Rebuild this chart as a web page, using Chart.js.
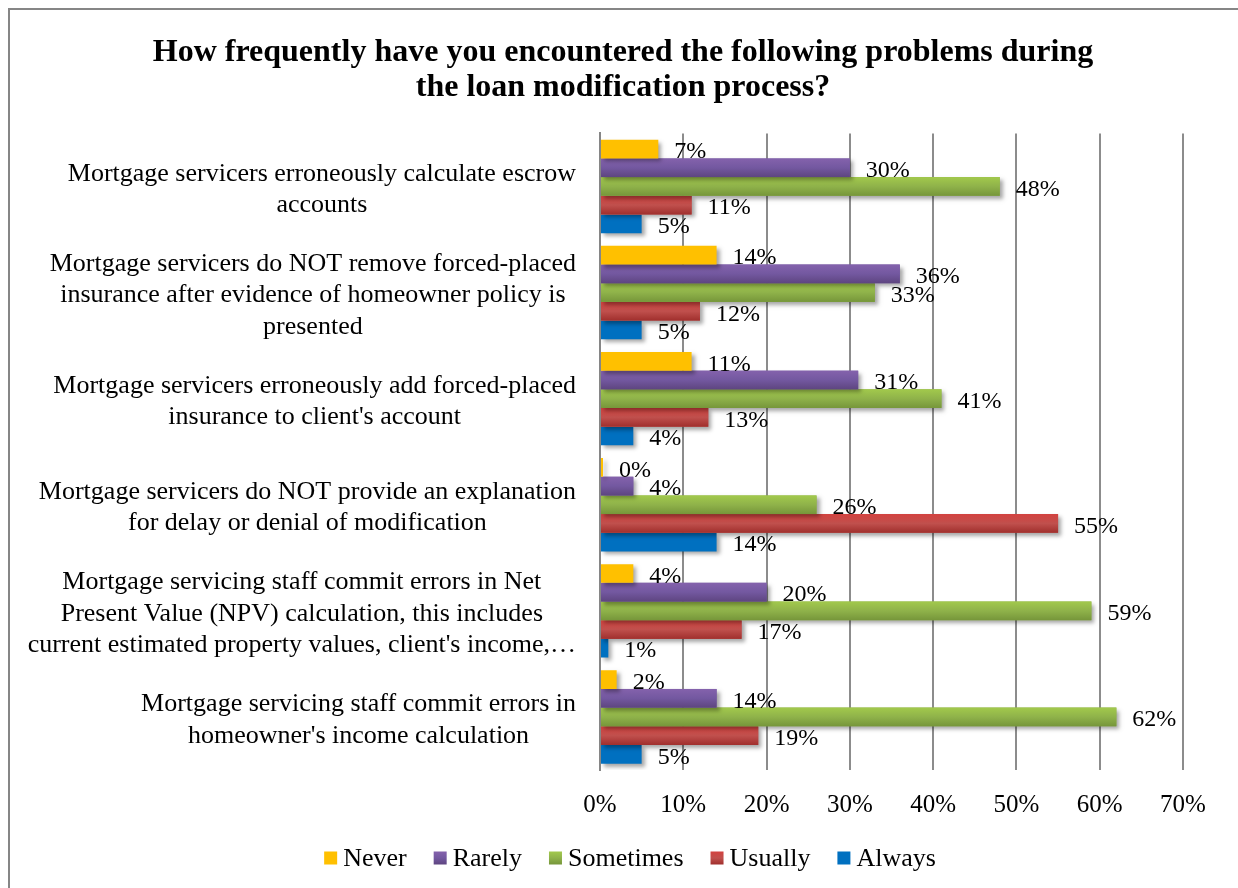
<!DOCTYPE html>
<html>
<head>
<meta charset="utf-8">
<title>Loan modification problems</title>
<script src="https://cdn.jsdelivr.net/npm/chart.js@4.4.1/dist/chart.umd.min.js"></script>
<style>
  html, body { margin: 0; padding: 0; background: #fff; }
  #wrap { width: 1238px; height: 888px; }
  canvas { display: block; }
</style>
</head>
<body>
<div id="wrap"><canvas id="surveyChart" width="1238" height="888"></canvas></div>
<script>
// survey answers, one array per frequency, same order as the problems list
const problems = [
  ["Mortgage servicers erroneously calculate escrow", "accounts"],
  ["Mortgage servicers do NOT remove forced-placed", "insurance after evidence of homeowner policy is", "presented"],
  ["Mortgage servicers erroneously add forced-placed", "insurance to client's account"],
  ["Mortgage servicers do NOT provide an explanation", "for delay or denial of modification"],
  ["Mortgage servicing staff commit errors in Net", "Present Value (NPV) calculation, this includes", "current estimated property values, client's income,\u2026"],
  ["Mortgage servicing staff commit errors in", "homeowner's income calculation"]
];
const seriesNames = ["Never", "Rarely", "Sometimes", "Usually", "Always"];
const never = [7, 14, 11, 0, 4, 2];
const rarely = [30, 36, 31, 4, 20, 14];
const sometimes = [48, 33, 41, 26, 59, 62];
const usually = [11, 12, 13, 55, 17, 19];
const always = [5, 5, 4, 14, 1, 5];
const xTicks = [0, 10, 20, 30, 40, 50, 60, 70];

const titleLines = [
  "How frequently have you encountered the following problems during",
  "the loan modification process?"
];

const FONT = "'Liberation Serif', 'Times New Roman', serif";

// flat colour plus optional top/bottom shades for the bevel look
const palette = [
  { fill: "#FFC000" },
  { fill: "#7358A0", top: "#8462AC", bottom: "#5E4580" },
  { fill: "#8FB24A", top: "#A2C94C", bottom: "#76963A" },
  { fill: "#C0504D", top: "#D3423F", bottom: "#A02F2D" },
  { fill: "#0070C0" }
];

function shadeFill(ctx, top, h, pal) {
  if (!pal.top) return pal.fill;
  const g = ctx.createLinearGradient(0, top, 0, top + h);
  g.addColorStop(0, pal.top);
  g.addColorStop(0.5, pal.fill);
  g.addColorStop(1, pal.bottom);
  return g;
}

const framePlugin = {
  id: "frame",
  beforeDraw(chart) {
    const c = chart.ctx;
    c.save();
    c.fillStyle = "#fff";
    c.fillRect(0, 0, chart.width, chart.height);
    c.strokeStyle = "#868686";
    c.lineWidth = 2;
    c.strokeRect(9, 9, chart.width + 20, chart.height + 20);
    c.restore();
  }
};

// drop shadow under bars and a vertical gradient on the shaded series
const barShading = {
  id: "barShading",
  beforeDatasetDraw(chart) {
    const c = chart.ctx;
    c.save();
    c.shadowColor = "rgba(0,0,0,0.35)";
    c.shadowBlur = 4;
    c.shadowOffsetX = 3;
    c.shadowOffsetY = 3;
  },
  afterDatasetDraw(chart, args) {
    const c = chart.ctx;
    c.restore();
    const pal = palette[args.index];
    if (!pal.top) return;
    args.meta.data.forEach((bar) => {
      const { x, y, base, height } = bar.getProps(["x", "y", "base", "height"], true);
      const left = Math.min(x, base);
      const w = Math.abs(x - base);
      const top = y - height / 2;
      c.fillStyle = shadeFill(c, top, height, pal);
      c.fillRect(left, top, w, height);
    });
  }
};

const valueLabels = {
  id: "valueLabels",
  afterDatasetsDraw(chart) {
    const c = chart.ctx;
    c.save();
    c.font = "24px " + FONT;
    c.fillStyle = "#000";
    c.textAlign = "left";
    c.textBaseline = "middle";
    chart.data.datasets.forEach((ds, di) => {
      chart.getDatasetMeta(di).data.forEach((bar, i) => {
        const { x, y } = bar.getProps(["x", "y"], true);
        c.fillText(ds.data[i] + "%", x + 16, y + 3);
      });
    });
    c.restore();
  }
};

// category text: block right-aligned to the axis, lines centred inside the block
const categoryLabels = {
  id: "categoryLabels",
  afterDraw(chart) {
    const c = chart.ctx;
    const yScale = chart.scales.y;
    const right = yScale.right - 24;
    const lineH = 31.5;
    c.save();
    c.font = "26px " + FONT;
    c.fillStyle = "#000";
    c.textAlign = "center";
    c.textBaseline = "middle";
    chart.data.labels.forEach((lines, i) => {
      const w = Math.max(...lines.map((l) => c.measureText(l).width));
      const cx = right - w / 2;
      const cy = yScale.getPixelForValue(i) + 3;
      lines.forEach((l, j) => {
        c.fillText(l, cx, cy + (j - (lines.length - 1) / 2) * lineH);
      });
    });
    c.restore();
  }
};

const legendRow = {
  id: "legendRow",
  afterDraw(chart) {
    const c = chart.ctx;
    const box = 13, gapText = 6, gapItem = 27, cy = 858, centre = 630;
    c.save();
    c.font = "26px " + FONT;
    c.textBaseline = "middle";
    c.textAlign = "left";
    const items = chart.data.datasets.map((ds) => ({ text: ds.label, w: c.measureText(ds.label).width }));
    const total = items.reduce((s, it) => s + box + gapText + it.w, 0) + gapItem * (items.length - 1);
    let x = centre - total / 2;
    items.forEach((it, i) => {
      const top = cy - box / 2;
      c.fillStyle = shadeFill(c, top, box, palette[i]);
      c.fillRect(x, top, box, box);
      c.fillStyle = "#000";
      c.fillText(it.text, x + box + gapText, cy + 1);
      x += box + gapText + it.w + gapItem;
    });
    c.restore();
  }
};

const seriesValues = [never, rarely, sometimes, usually, always];

const ctx = document.getElementById("surveyChart").getContext("2d");
new Chart(ctx, {
  type: "bar",
  data: {
    labels: problems,
    datasets: seriesNames.map((name, i) => ({
      label: name,
      data: seriesValues[i],
      backgroundColor: palette[i].fill,
      borderWidth: 0,
      minBarLength: 3,
      categoryPercentage: 0.88,
      barPercentage: 1
    }))
  },
  options: {
    indexAxis: "y",
    responsive: false,
    animation: false,
    devicePixelRatio: 1,
    layout: { padding: { left: 8, right: 0, top: 0, bottom: 0 } },
    scales: {
      x: {
        min: 0,
        max: 70,
        afterBuildTicks: (s) => { s.ticks = xTicks.map((v) => ({ value: v })); },
        ticks: {
          callback: (v) => v + "%",
          font: { family: FONT, size: 25 },
          color: "#000",
          padding: 20,
          maxRotation: 0
        },
        grid: { color: "#8c8c8c", lineWidth: 2, drawTicks: false },
        border: { display: false },
        afterFit: (s) => { s.height = 118; }
      },
      y: {
        ticks: { display: false },
        grid: { display: false },
        border: { display: true, color: "#868686", width: 2, z: 1 },
        afterFit: (s) => { s.width = 592; }
      },
      // empty strip on the right so the plot stops at 70%
      gap: {
        type: "linear",
        axis: "y",
        position: "right",
        ticks: { display: false },
        grid: { display: false },
        border: { display: false },
        afterFit: (s) => { s.width = 55; }
      }
    },
    plugins: {
      legend: { display: false },
      tooltip: { enabled: false },
      title: {
        display: true,
        text: titleLines,
        color: "#000",
        font: { family: FONT, size: 32, weight: "bold", lineHeight: 1.1 },
        padding: { top: 35, bottom: 28 }
      }
    }
  },
  plugins: [framePlugin, barShading, valueLabels, categoryLabels, legendRow]
});
</script>
</body>
</html>
